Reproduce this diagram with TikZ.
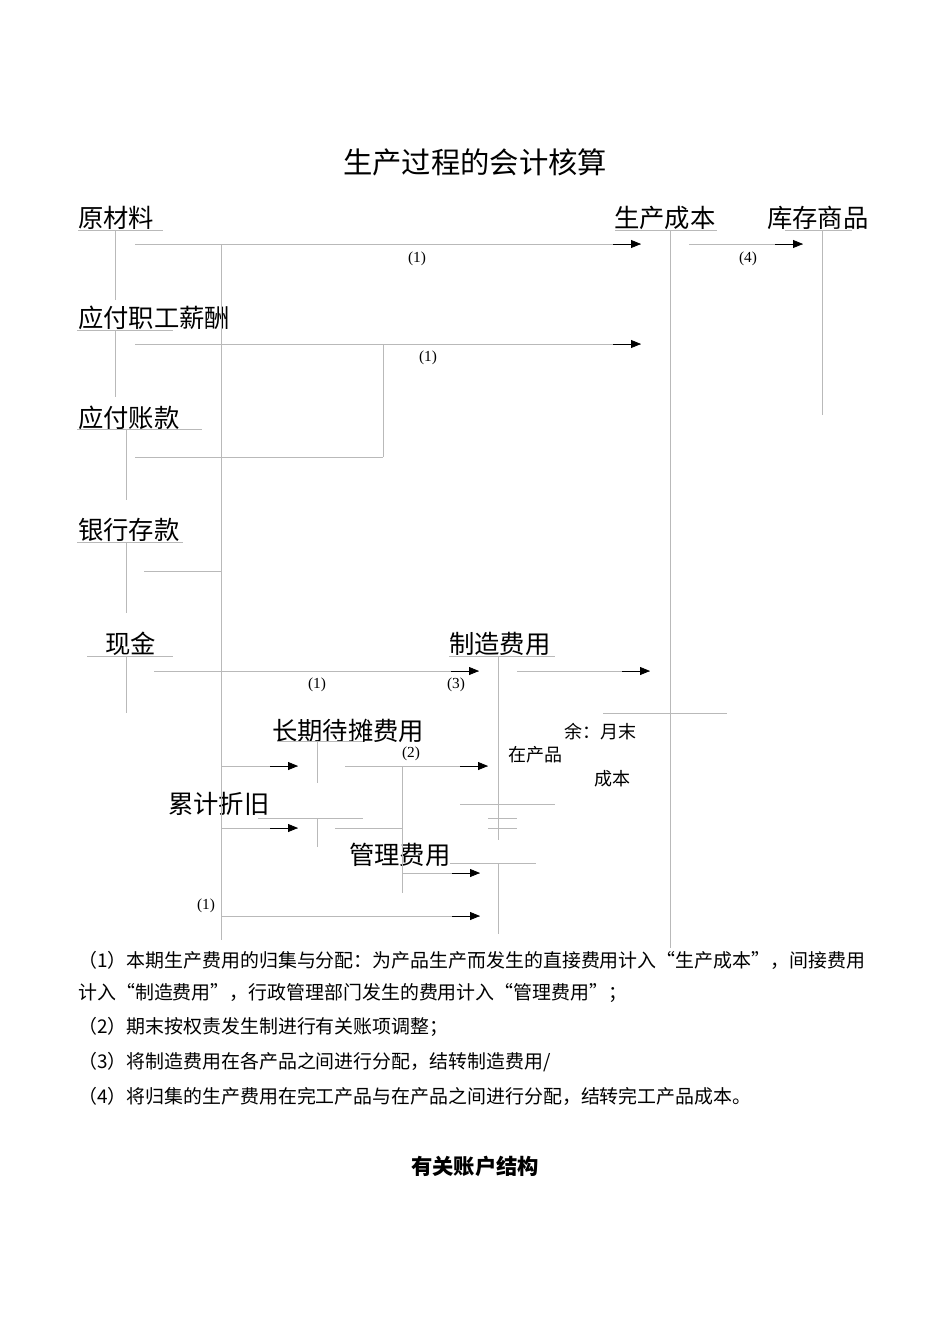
\documentclass[tikz,border=0pt]{standalone}
\usepackage{fontspec}
\usepackage{tikz}
\usetikzlibrary{arrows.meta,calc}
\setmainfont{Liberation Serif}
\newfontfamily\cjk{Noto Sans CJK SC}
\definecolor{rulegray}{RGB}{185,185,185}
\newcommand\lquo{{\addfontfeature{CharacterWidth=Full}“}}
\newcommand\rquo{{\addfontfeature{CharacterWidth=Full}”}}

\tikzset{
  acct/.style={anchor=west, inner sep=0pt, font=\cjk\fontsize{19}{19}\selectfont},
  cellnote/.style={anchor=west, inner sep=0pt, font=\cjk\fontsize{13.5}{13.5}\selectfont},
  notetext/.style={anchor=west, inner sep=0pt, font=\cjk\fontsize{14.2}{14.2}\selectfont},
  num/.style={inner sep=0pt, font=\fontsize{11.5}{11.5}\selectfont},
  tline/.style={draw=rulegray, line width=0.6pt},
  tipline/.style={draw=black, line width=0.6pt, -{Triangle[length=7.5pt,width=6pt]}},
}

\begin{document}
\begin{tikzpicture}[x=0.75pt, y=-0.75pt]
        \useasboundingbox (0,0) rectangle (950,1342);
        \node[font=\cjk\fontsize{22}{22}\selectfont] (title) at (475,162) {生产过程的会计核算};
        % Account titles
        \foreach \nm/\x/\y/\txt in {ycl/78/218/原材料, yfxc/78/318/应付职工薪酬, yfzk/78/418/应付账款,
            yhck/78/530/银行存款, xj/105/644/现金, sccb/614/218/生产成本, kcsp/767/218/库存商品,
            zzfy/449/644/制造费用, cqdt/272/731/长期待摊费用, ljzj/168/804/累计折旧, glfy/349/855/管理费用} {
            \node[acct] (\nm) at (\x,\y) {\txt};
        }
        % T-account rules
        \foreach \xa/\xb/\y in {78/163/230, 77/173/330, 77/202/429, 77/183/542, 87/173/656,
            615/717/230, 785/852/230, 449/555/656, 277/363/741, 258/363/818, 450/536/863,
            603/727/713, 460/555/804, 488/517/818, 488/517/828,
            135/383/457, 144/221/571, 335/402/828} {
            \draw[tline] (\xa,\y) -- (\xb,\y);
        }
        \foreach \x/\ya/\yb in {115/230/300, 115/330/397, 126/429/500, 126/542/613, 126/656/713,
            670/230/948, 822/230/415, 498/656/840, 498/863/934, 317/741/783, 317/818/847,
            221/244/940, 383/344/457, 402/766/893} {
            \draw[tline] (\x,\ya) -- (\x,\yb);
        }
        % Flow arrows
        \foreach \nm/\xa/\xb/\y in {fa/135/641/244, fb/135/641/344, fc/689/803/244, fd/154/479/671,
            fe/517/650/671, ff/221/298/766, fg/345/488/766, fh/221/298/828, fi/402/480/873, fj/221/480/916} {
            \coordinate (\nm-s) at (\xa,\y);
            \coordinate (\nm-e) at (\xb,\y);
            \draw[tline] (\nm-s) -- (\nm-e);
            \draw[tipline] ($(\nm-e)+(-28,0)$) -- (\nm-e);
        }
        % Entry numbers
        \foreach \nm/\x/\y/\txt in {na/417/259/{(1)}, nb/428/358/{(1)}, nc/748/259/{(4)}, nd/317/685/{(1)},
            ne/456/685/{(3)}, nf/411/754/{(2)}, ng/206/906/{(1)}} {
            \node[num] (\nm) at (\x,\y) {\txt};
        }
        % Balance of work in process
        \node[cellnote] (bal) at (564,732) {余：月末};
        \node[cellnote] (wip) at (508,755) {在产品};
        \node[cellnote] (cost) at (594,779) {成本};
        % Notes
        \node[notetext] (l1) at (78,960) {（1）本期生产费用的归集与分配：为产品生产而发生的直接费用计入\lquo 生产成本\rquo ，间接费用};
        \node[notetext] (l2) at (78,993) {计入\lquo 制造费用\rquo ，行政管理部门发生的费用计入\lquo 管理费用\rquo ；};
        \node[notetext] (l3) at (78,1027) {（2）期末按权责发生制进行有关账项调整；};
        \node[notetext] (l4) at (78,1062) {（3）将制造费用在各产品之间进行分配，结转制造费用/};
        \node[notetext] (l5) at (78,1096) {（4）将归集的生产费用在完工产品与在产品之间进行分配，结转完工产品成本。};
        \node[font=\cjk\bfseries\fontsize{16}{16}\selectfont] (struct) at (475,1166) {有关账户结构};
    \end{tikzpicture}
\end{document}
